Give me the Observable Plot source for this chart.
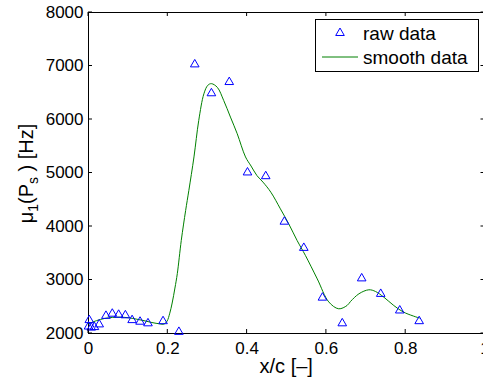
<!DOCTYPE html>
<html><head><meta charset="utf-8">
<script src="https://cdn.jsdelivr.net/npm/d3@7"></script>
<script src="https://cdn.jsdelivr.net/npm/@observablehq/plot@0.6"></script>
<style>
html,body{margin:0;padding:0;background:#fff;}
#chart{position:relative;width:483px;height:383px;overflow:hidden;}
</style></head><body><div id="chart"></div>
<script>
// raw data (x/c, Hz)
const rawX = [0.000,0.002,0.007,0.015,0.027,0.044,0.060,0.076,0.093,0.110,0.130,0.150,0.188,0.228,0.268,0.310,0.355,0.401,0.447,0.494,0.543,0.590,0.640,0.689,0.737,0.785,0.834];
const rawY = [2130,2250,2110,2120,2170,2330,2370,2350,2340,2250,2220,2190,2230,2030,7030,6490,6700,5010,4940,4090,3600,2670,2190,3030,2740,2430,2230];
// smooth data
const smoothX = [0,0.02,0.04,0.06,0.08,0.10,0.12,0.14,0.16,0.18,0.19,0.198,0.205,0.211,0.218,0.224,0.234,0.245,0.253,0.266,0.278,0.291,0.301,0.310,0.325,0.341,0.358,0.375,0.396,0.41,0.425,0.44,0.46,0.484,0.505,0.526,0.547,0.577,0.606,0.631,0.652,0.661,0.682,0.707,0.724,0.745,0.770,0.795,0.834];
const smoothY = [2180,2240,2280,2300,2305,2295,2270,2240,2205,2180,2175,2230,2380,2570,2850,3120,3740,4300,4670,5300,5980,6480,6640,6670,6600,6355,6045,5735,5300,5130,4950,4830,4640,4330,4050,3740,3460,3020,2590,2462,2523,2600,2742,2817,2785,2678,2523,2398,2290];
const xTicks = [0,0.2,0.4,0.6,0.8,1];
const yTicks = [2000,3000,4000,5000,6000,7000,8000];
const xDomain = [0,1];
const yDomain = [2000,8000];

const raw = rawX.map((x,i)=>({x, y: rawY[i]}));
const smooth = smoothX.map((x,i)=>({x, y: smoothY[i]}));
const font = "'Liberation Sans', Arial, Helvetica, sans-serif";
const BLUE = "#0000ff", GREEN = "#008000";

const plot = Plot.plot({
  width: 483, height: 383,
  marginLeft: 88, marginTop: 12, marginBottom: 50, marginRight: 0,
  x: {domain: xDomain, range: [88, 484.5]},
  y: {domain: yDomain, range: [333, 12]},
  style: {fontFamily: font, fontSize: "17px", color: "black", background: "white", overflow: "visible"},
  marks: [
    Plot.ruleX(xDomain, {stroke: "black", strokeWidth: 1}),
    Plot.ruleY(yDomain, {stroke: "black", strokeWidth: 1}),
    Plot.line(smooth, {x: "x", y: "y", stroke: GREEN, strokeWidth: 1, curve: "catmull-rom"}),
    Plot.dot(raw, {x: "x", y: "y", symbol: "triangle", r: 3.2, stroke: BLUE, fill: "none", strokeWidth: 1}),
    Plot.axisX(xTicks, {anchor: "bottom", tickSize: 0, tickPadding: 8, fontSize: 17, label: null,
      tickFormat: d => (d === 0 || d === 1) ? String(d) : d.toFixed(1)}),
    Plot.axisY(yTicks, {anchor: "left", tickSize: 0, tickPadding: 5, fontSize: 17, label: null,
      tickFormat: d => String(d)})
  ]
});
document.getElementById("chart").appendChild(plot);

const sx = plot.scale("x"), sy = plot.scale("y");
const svg = d3.select(plot);
const x0 = sx.apply(xDomain[0]), x1 = sx.apply(xDomain[1]);
const y0 = sy.apply(yDomain[0]), y1 = sy.apply(yDomain[1]);
const g = svg.append("g").attr("stroke", "black").attr("stroke-width", 1);
for (const t of xTicks) {
  const px = sx.apply(t);
  g.append("line").attr("x1", px).attr("x2", px).attr("y1", y0).attr("y2", y0 - 4);
  g.append("line").attr("x1", px).attr("x2", px).attr("y1", y1).attr("y2", y1 + 4);
}
for (const t of yTicks) {
  const py = sy.apply(t);
  g.append("line").attr("x1", x0).attr("x2", x0 + 4).attr("y1", py).attr("y2", py);
  g.append("line").attr("x1", x1).attr("x2", x1 - 4).attr("y1", py).attr("y2", py);
}

// axis labels
svg.append("text").attr("x", (x0 + x1) / 2).attr("y", 373).attr("text-anchor", "middle")
  .attr("font-family", font).attr("font-size", 20).attr("fill", "black").text("x/c [–]");
const yl = svg.append("text").attr("transform", `translate(33,${(y0 + y1) / 2 + 1}) rotate(-90)`)
  .attr("text-anchor", "middle").attr("font-family", font).attr("font-size", 20).attr("fill", "black");
yl.append("tspan").text("μ");
yl.append("tspan").attr("dy", 5).attr("font-size", 14).text("1");
yl.append("tspan").attr("dy", -5).text("(P");
yl.append("tspan").attr("dy", 5).attr("font-size", 14).text("s");
yl.append("tspan").attr("dy", -5).text(" ) [Hz]");

// legend
const lg = svg.append("g").attr("font-family", font).attr("font-size", 19).attr("text-anchor", "start").attr("fill", "black");
lg.append("rect").attr("x", 315.5).attr("y", 19.5).attr("width", 163).attr("height", 52)
  .attr("fill", "white").attr("stroke", "black").attr("stroke-width", 1);
lg.append("path").attr("d", d3.symbol(d3.symbolTriangle, Math.PI * 3.2 * 3.2)())
  .attr("transform", "translate(340,33)").attr("fill", "none").attr("stroke", BLUE);
lg.append("line").attr("x1", 322).attr("x2", 358).attr("y1", 57).attr("y2", 57).attr("stroke", GREEN);
lg.append("text").attr("x", 363).attr("y", 33).attr("dy", "0.35em").attr("text-anchor", "start").text("raw data");
lg.append("text").attr("x", 363).attr("y", 57).attr("dy", "0.35em").attr("text-anchor", "start").text("smooth data");
</script></body></html>
